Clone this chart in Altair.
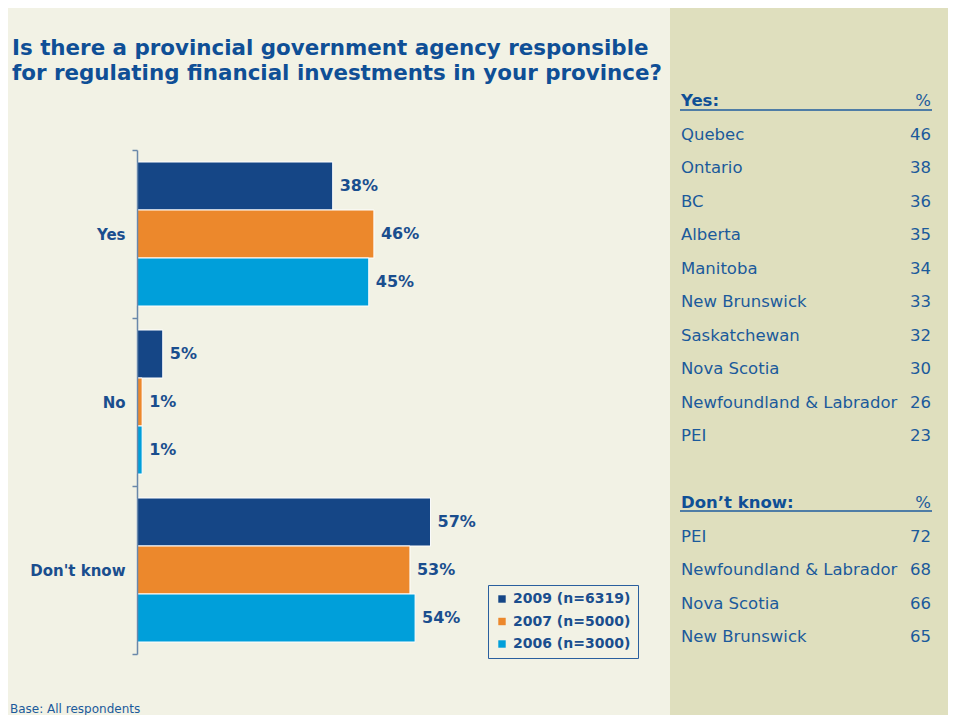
import altair as alt
import pandas as pd

# ---------------- data ----------------
categories = ["Yes", "No", "Don't know"]
series = ["2009 (n=6319)", "2007 (n=5000)", "2006 (n=3000)"]
values_2009 = [38, 5, 57]
values_2007 = [46, 1, 53]
values_2006 = [45, 1, 54]

title_lines = [
    "Is there a provincial government agency responsible",
    "for regulating financial investments in your province?",
]
footnote = "Base: All respondents"

yes_header = "Yes:"
yes_provinces = ["Quebec", "Ontario", "BC", "Alberta", "Manitoba", "New Brunswick",
                 "Saskatchewan", "Nova Scotia", "Newfoundland & Labrador", "PEI"]
yes_pct = [46, 38, 36, 35, 34, 33, 32, 30, 26, 23]

dk_header = "Don\u2019t know:"
dk_provinces = ["PEI", "Newfoundland & Labrador", "Nova Scotia", "New Brunswick"]
dk_pct = [72, 68, 66, 65]

# ---------------- styles ----------------
FONT = "DejaVu Sans"
CREAM = "#F2F2E5"
KHAKI = "#DFDFBE"
TITLE_BLUE = "#0F4F96"
LABEL_BLUE = "#1A4E8E"
TABLE_BLUE = "#1B5A9B"
AXIS_COL = "#6A88AA"
BAR_COLORS = ["#154686", "#EC882C", "#009FDA"]

LEFT = 129          # plot origin (axis position) inside the chart
W, H = 940 - LEFT, 707
ROW0, ROWSTEP = 93, 33.5   # text-table layout (header row centre, row pitch)

# ---------------- tables ----------------
rows = []
for cat, a, b, c in zip(categories, values_2009, values_2007, values_2006):
    for s, v in zip(series, (a, b, c)):
        rows.append({"category": cat, "series": s, "value": v, "label": f"{v}%"})
bar_df = pd.DataFrame(rows)

table_rows = []
for i, (p, v) in enumerate(zip(yes_provinces, yes_pct)):
    table_rows.append({"row": 1 + i, "name": p, "pct": str(v)})
for i, (p, v) in enumerate(zip(dk_provinces, dk_pct)):
    table_rows.append({"row": 13 + i, "name": p, "pct": str(v)})
table_df = pd.DataFrame(table_rows)
header_df = pd.DataFrame([
    {"row": 0, "name": yes_header, "pct": "%"},
    {"row": 12, "name": dk_header, "pct": "%"},
])

one = pd.DataFrame({"a": [0]})

# ---------------- bar chart ----------------
x_enc = alt.X("value:Q", scale=alt.Scale(domain=[0, 100], range=[0, 515]), axis=None)
y_scale = alt.Scale(domain=categories, range=[142, 646], paddingInner=0, paddingOuter=0)
yoff = alt.YOffset("series:N", sort=series,
                   scale=alt.Scale(domain=series, paddingInner=0, paddingOuter=0.25))

bars = alt.Chart(bar_df).mark_bar(stroke="white", strokeWidth=1).encode(
    x=x_enc,
    y=alt.Y("category:N", sort=categories, scale=y_scale,
            axis=alt.Axis(title=None, orient="left", domainColor=AXIS_COL, domainWidth=1.5,
                          tickColor=AXIS_COL, tickWidth=1.5, tickBand="extent", tickSize=5,
                          labelPadding=7, labelFont=FONT, labelFontSize=15,
                          labelFontWeight="bold", labelColor=LABEL_BLUE, grid=False,
                          zindex=1)),
    yOffset=yoff,
    color=alt.Color("series:N", sort=series,
                    scale=alt.Scale(domain=series, range=BAR_COLORS),
                    legend=alt.Legend(title=None, orient="none", legendX=351, legendY=577,
                                      direction="vertical", symbolType="square",
                                      symbolSize=55, symbolStrokeWidth=0,
                                      labelFont=FONT, labelFontSize=14,
                                      labelFontWeight="bold", labelColor=LABEL_BLUE,
                                      labelOffset=4, rowPadding=8.5, padding=7,
                                      strokeColor="#2A5F9E", fillColor=CREAM,
                                      cornerRadius=0)),
)

labels = alt.Chart(bar_df).mark_text(
    align="left", baseline="middle", dx=7, font=FONT, fontSize=16,
    fontWeight="bold", color=LABEL_BLUE,
).encode(
    x=x_enc,
    y=alt.Y("category:N", sort=categories, scale=y_scale),
    yOffset=yoff,
    text="label:N",
)

# ---------------- right panel ----------------
panel = alt.Chart(one).mark_rect(color=KHAKI).encode(
    x=alt.value(662 - LEFT), x2=alt.value(W), y=alt.value(0), y2=alt.value(H)
)

ypos = f"{ROW0} + datum.row * {ROWSTEP}"
row_y = alt.Y("ypos:Q", scale=None)


def table_text(df, field, x, align, weight="normal", color=TABLE_BLUE):
    return alt.Chart(df).transform_calculate(ypos=ypos).mark_text(
        align=align, baseline="middle", font=FONT, fontSize=16.5,
        fontWeight=weight, color=color
    ).encode(x=alt.value(x), y=row_y, text=f"{field}:N")


names = table_text(table_df, "name", 673 - LEFT, "left")
pcts = table_text(table_df, "pct", 923 - LEFT, "right")
head_names = table_text(header_df, "name", 673 - LEFT, "left", "bold", TITLE_BLUE)
head_pcts = table_text(header_df, "pct", 923 - LEFT, "right")

rule1 = alt.Chart(one).mark_rule(color="#1F5C9E", strokeWidth=1.5).encode(
    x=alt.value(672 - LEFT), x2=alt.value(924 - LEFT), y=alt.value(102)
)
rule2 = alt.Chart(one).mark_rule(color="#1F5C9E", strokeWidth=1.5).encode(
    x=alt.value(672 - LEFT), x2=alt.value(924 - LEFT), y=alt.value(503)
)

# ---------------- title & footnote ----------------
title = alt.Chart(one).mark_text(
    text=title_lines, align="left", baseline="alphabetic", font=FONT, fontSize=21.4,
    fontWeight="bold", color=TITLE_BLUE, lineHeight=25
).encode(x=alt.value(4 - LEFT), y=alt.value(47))

foot = alt.Chart(one).mark_text(
    text=footnote, align="left", baseline="alphabetic", font=FONT, fontSize=12,
    color=TABLE_BLUE
).encode(x=alt.value(2 - LEFT), y=alt.value(705))

chart = alt.layer(
    bars, labels, panel, rule1, rule2, names, pcts, head_names, head_pcts, title, foot
).properties(
    width=W, height=H, background=CREAM,
    padding={"left": LEFT, "top": 0, "right": 0, "bottom": 0},
    autosize=alt.AutoSizeParams(type="none"),
).configure_view(stroke=None)

chart.save("out.html", embed_options={"renderer": "svg", "actions": False})
